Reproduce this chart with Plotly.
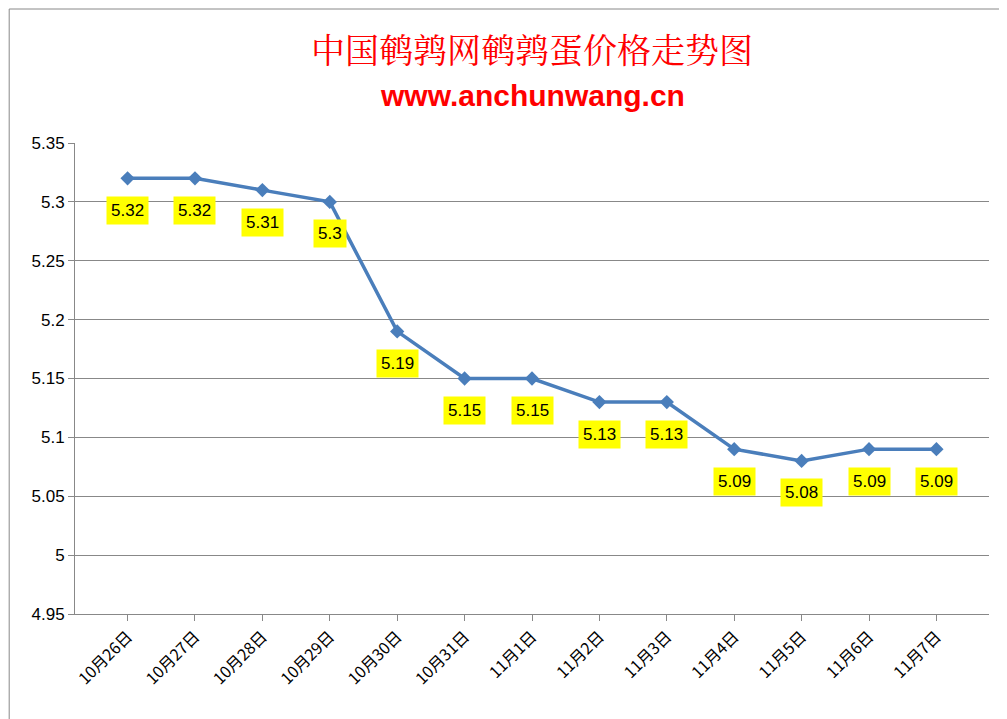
import plotly.graph_objects as go

dates = ["10月26日","10月27日","10月28日","10月29日","10月30日","10月31日","11月1日",
         "11月2日","11月3日","11月4日","11月5日","11月6日","11月7日"]
prices = [5.32,5.32,5.31,5.3,5.19,5.15,5.15,5.13,5.13,5.09,5.08,5.09,5.09]
y_ticks = [4.95,5,5.05,5.1,5.15,5.2,5.25,5.3,5.35]
y_tick_text = ["4.95","5","5.05","5.1","5.15","5.2","5.25","5.3","5.35"]

fig = go.Figure()
fig.add_trace(go.Scatter(x=dates, y=prices, mode="lines+markers",
    line=dict(color="#4A7EBB", width=3.5),
    marker=dict(symbol="diamond", size=11, color="#4A7EBB")))

for d, p in zip(dates, prices):
    fig.add_annotation(x=d, y=p, text=f"{p:g}", showarrow=False, yshift=-32,
        bgcolor="#FFFF00", borderpad=4,
        font=dict(family="Liberation Sans, Arial", size=17, color="black"))

fig.add_annotation(xref="paper", yref="paper", x=0.5, y=1+(135-40)/471, yanchor="middle",
    text="中国鹌鹑网鹌鹑蛋价格走势图", showarrow=False,
    font=dict(family="Noto Serif CJK SC, Noto Sans CJK SC", size=34, color="#FF0000"))
fig.add_annotation(xref="paper", yref="paper", x=0.5, y=1+(135-87)/471, yanchor="middle",
    text="<b>www.anchunwang.cn</b>", showarrow=False,
    font=dict(family="Liberation Sans, Arial", size=30, color="#FF0000"))

fig.update_layout(
    width=1007, height=719,
    margin=dict(l=67, r=26, t=135, b=113, autoexpand=False),
    paper_bgcolor="white", plot_bgcolor="white",
    showlegend=False,
    xaxis=dict(type="category", tickangle=-45, showgrid=False, showline=True, automargin=False,
               linecolor="#888", ticks="outside", ticklen=6, tickcolor="#888",
               tickfont=dict(family="Noto Sans CJK SC", size=16, color="black")),
    yaxis=dict(range=[4.95,5.35], tickvals=y_ticks, ticktext=y_tick_text, automargin=False,
               showgrid=True, gridcolor="#888", gridwidth=1, showline=True,
               linecolor="#888", ticks="outside", ticklen=6, tickcolor="#888",
               tickfont=dict(family="Liberation Sans, Arial", size=17, color="black")),
    shapes=[dict(type="rect", xref="paper", yref="paper", x0=-0.072, x1=1.027,
                 y0=-0.238, y1=1.2845, line=dict(color="#888", width=1))],
)
fig.write_html("out.html")
